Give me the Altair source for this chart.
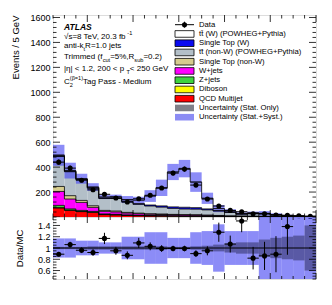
import altair as alt
import pandas as pd

FONT = "Liberation Sans"

# ---------------- data ----------------
bin_edges = [25, 30, 35, 40, 45, 50, 55, 60, 65, 70, 75, 80, 85, 90, 95, 100,
             105, 110, 115, 120, 125, 130, 135, 140]

qcd      = [72, 53, 43, 37, 19, 17, 12, 10, 8, 7, 6, 5, 5, 4, 3, 2, 2, 1, 1, 1, 0.5, 0.5, 0.3]
diboson  = [3, 2, 2, 2, 1, 1, 1, 1, 1, 1, 1, 1, 1, 1, 0.5, 0.5, 0.5, 0.3, 0.3, 0.2, 0.2, 0.1, 0.1]
zjets    = [18, 10, 8, 6, 5, 4, 4, 3, 3, 3, 3, 2, 2, 2, 2, 1, 1, 1, 1, 1, 0.5, 0.5, 0.3]
wjets    = [112, 79, 64, 32, 20, 18, 14, 12, 10, 9, 8, 8, 7, 6, 5, 4, 3, 3, 2, 2, 1, 1, 1]
st_nonw  = [40, 27, 16, 13, 8, 8, 6, 5, 4, 4, 3, 3, 3, 2, 2, 1, 1, 1, 1, 0.5, 0.5, 0.3, 0.2]
tt_nonw  = [240, 192, 167, 140, 95, 100, 85, 70, 62, 55, 48, 45, 45, 42, 35, 28, 15, 22, 20, 12, 7, 4, 3]
st_w     = [5, 4, 3, 4, 4, 5, 6, 7, 8, 10, 12, 14, 12, 8, 5, 3, 2, 2, 2, 1, 0.5, 0.5, 0.3]
tt_w     = [5, 5, 4, 6, 8, 10, 12, 27, 72, 145, 280, 310, 205, 85, 15, 8, 4, 3, 2, 1, 0.5, 0.5, 0.3]

data_counts = [440, 392, 295, 218, 182, 152, 120, 146, 174, 232, 352, 384, 256, 144,
               88, 53, 42, 26, 26, 16, 14, 10, 5]
data_errors = [21, 20, 17, 15, 13, 12, 11, 12, 13, 15, 19, 20, 16, 12,
               9, 7, 6.5, 5, 5, 4, 3.7, 3.2, 2.2]

ratio_vals = [0.89, 1.06, 0.96, 0.92, 1.17, 0.95, 0.87, 1.09, 1.03, 0.99, 0.99, 0.99, 0.90, 0.95,
              1.28, 1.07, 1.48, 0.82, 0.86, 0.89, 1.38, None, None]
ratio_errs = [0.04, 0.05, 0.05, 0.06, 0.10, 0.07, 0.07, 0.09, 0.07, 0.06, 0.05, 0.05, 0.06, 0.08,
              0.17, 0.15, 0.20, 0.20, 0.25, 0.32, 0.50, None, None]

unc_syst = [0.17, 0.17, 0.13, 0.13, 0.10, 0.10, 0.20, 0.20, 0.28, 0.28, 0.18, 0.18, 0.28, 0.30,
            0.42, 0.30, 0.30, 0.30, 0.60, 0.60, 0.60, 0.60, 0.60]
unc_stat = [0.02, 0.02, 0.02, 0.03, 0.03, 0.03, 0.03, 0.03, 0.03, 0.03, 0.02, 0.02, 0.03, 0.04,
            0.06, 0.08, 0.10, 0.10, 0.15, 0.18, 0.20, 0.22, 0.40]

# stack order bottom -> top
comp_names = ["QCD Multijet", "Diboson", "Z+jets", "W+jets", "Single Top (non-W)",
              "tt̄ (non-W) (POWHEG+Pythia)", "Single Top (W)", "tt̄ (W) (POWHEG+Pythia)"]
comp_values = [qcd, diboson, zjets, wjets, st_nonw, tt_nonw, st_w, tt_w]
comp_colors = ["#ff0000", "#ffff00", "#3ed33e", "#ff00ff", "#d6cc8e",
               "#b3bfc8", "#0a0af0", "#ffffff"]

SYST_COL, SYST_OP = "#4646f2", 0.62
STAT_COL, STAT_OP = "#1a1a40", 0.45

lo = bin_edges[:-1]
hi = bin_edges[1:]
nb = len(lo)

# ---------------- tables ----------------
rows, lines = [], []
cum = [0.0] * nb
for name, vals, col in zip(comp_names, comp_values, comp_colors):
    for i in range(nb):
        y0 = cum[i]
        y1 = cum[i] + vals[i]
        rows.append(dict(lo=lo[i], hi=hi[i], y0=y0, y1=y1, name=name))
        cum[i] = y1
    for i in range(nb):
        lines.append(dict(x=lo[i], y=cum[i], name=name))
    lines.append(dict(x=hi[-1], y=cum[-1], name=name))
stack_df = pd.DataFrame(rows)
line_df = pd.DataFrame(lines)
total = cum[:]

band_df = pd.DataFrame(dict(lo=lo, hi=hi,
                            s_lo=[t * (1 - u) for t, u in zip(total, unc_syst)],
                            s_hi=[t * (1 + u) for t, u in zip(total, unc_syst)],
                            t_lo=[t * (1 - u) for t, u in zip(total, unc_stat)],
                            t_hi=[t * (1 + u) for t, u in zip(total, unc_stat)],
                            r_slo=[1 - u for u in unc_syst], r_shi=[1 + u for u in unc_syst],
                            r_tlo=[1 - u for u in unc_stat], r_thi=[1 + u for u in unc_stat]))

data_df = pd.DataFrame(dict(lo=lo, hi=hi, c=[(a + b) / 2 for a, b in zip(lo, hi)],
                            n=data_counts,
                            elo=[n - e for n, e in zip(data_counts, data_errors)],
                            ehi=[n + e for n, e in zip(data_counts, data_errors)]))

rat_rows = []
for i in range(nb):
    if ratio_vals[i] is None:
        continue
    rat_rows.append(dict(lo=lo[i], hi=hi[i], c=(lo[i] + hi[i]) / 2, r=ratio_vals[i],
                         rlo=ratio_vals[i] - ratio_errs[i], rhi=ratio_vals[i] + ratio_errs[i]))
rat_df = pd.DataFrame(rat_rows)

# ---------------- geometry ----------------
W, H1, H2 = 263, 202, 62
xsc = alt.Scale(domain=[25, 140], nice=False, zero=False)
ysc = alt.Scale(domain=[0, 1620], nice=False, zero=False)
rsc = alt.Scale(domain=[0.45, 1.55], nice=False, zero=False)

yax = alt.Axis(values=list(range(200, 1601, 200)), format="d", ticks=False, domain=False, grid=False,
               labelFontSize=9, labelPadding=3, labelColor="black", labelFont=FONT,
               title="Events / 5 GeV", titleAnchor="end", titleFontSize=9.5,
               titleFontWeight="normal", titleFont=FONT, titlePadding=9, titleColor="black")
rax = alt.Axis(values=[0.6, 0.8, 1, 1.2, 1.4], format="~g", ticks=False, domain=False, grid=False,
               labelFontSize=9, labelPadding=3, labelColor="black", labelFont=FONT,
               title="Data/MC", titleFontSize=9.5, titleFontWeight="normal", titleFont=FONT,
               titlePadding=13, titleColor="black")
xax = alt.Axis(values=list(range(40, 141, 20)), format="d", ticks=False, domain=False, grid=False,
               labelFontSize=9, labelPadding=2, labelColor="black", labelFont=FONT,
               title="M [GeV]", titleAnchor="end", titleFontSize=9.5, titleFontWeight="normal",
               titleFont=FONT, titlePadding=4, titleColor="black", labelFlush=False)

one = pd.DataFrame({"a": [0]})

# ---------------- main panel ----------------
bars = alt.Chart(stack_df).mark_rect(strokeWidth=0).encode(
    x=alt.X("lo:Q", scale=xsc, axis=None), x2="hi:Q",
    y=alt.Y("y0:Q", scale=ysc, axis=yax), y2="y1:Q",
    color=alt.Color("name:N", scale=alt.Scale(domain=comp_names, range=comp_colors), legend=None))

steps = alt.Chart(line_df).mark_line(interpolate="step-after", color="black", strokeWidth=0.8).encode(
    x=alt.X("x:Q", scale=xsc, axis=None), y=alt.Y("y:Q", scale=ysc, axis=yax), detail="name:N")

band_s = alt.Chart(band_df).mark_rect(color=SYST_COL, opacity=SYST_OP).encode(
    x=alt.X("lo:Q", scale=xsc, axis=None), x2="hi:Q",
    y=alt.Y("s_lo:Q", scale=ysc, axis=yax), y2="s_hi:Q")
band_t = alt.Chart(band_df).mark_rect(color=STAT_COL, opacity=STAT_OP).encode(
    x=alt.X("lo:Q", scale=xsc, axis=None), x2="hi:Q",
    y=alt.Y("t_lo:Q", scale=ysc, axis=yax), y2="t_hi:Q")

d_h = alt.Chart(data_df).mark_rule(color="black", strokeWidth=1).encode(
    x=alt.X("lo:Q", scale=xsc, axis=None), x2="hi:Q", y=alt.Y("n:Q", scale=ysc, axis=yax))
d_v = alt.Chart(data_df).mark_rule(color="black", strokeWidth=1).encode(
    x=alt.X("c:Q", scale=xsc, axis=None), y=alt.Y("elo:Q", scale=ysc, axis=yax), y2="ehi:Q")
d_p = alt.Chart(data_df).mark_circle(color="black", opacity=1, size=26).encode(
    x=alt.X("c:Q", scale=xsc, axis=None), y=alt.Y("n:Q", scale=ysc, axis=yax))


def tick_layers(xticks_major, xticks_minor, yticks_major, yticks_minor, xs, ys, yax_, H,
                lx_major, lx_minor, ly_major, ly_minor):
    out = []
    for vals, ln in ((xticks_major, lx_major), (xticks_minor, lx_minor)):
        df = pd.DataFrame({"t": vals})
        out.append(alt.Chart(df).mark_rule(color="black", strokeWidth=0.8).encode(
            x=alt.X("t:Q", scale=xs, axis=None), y=alt.value(0), y2=alt.value(ln)))
        out.append(alt.Chart(df).mark_rule(color="black", strokeWidth=0.8).encode(
            x=alt.X("t:Q", scale=xs, axis=None), y=alt.value(H), y2=alt.value(H - ln)))
    for vals, ln in ((yticks_major, ly_major), (yticks_minor, ly_minor)):
        df = pd.DataFrame({"t": vals})
        out.append(alt.Chart(df).mark_rule(color="black", strokeWidth=0.8).encode(
            y=alt.Y("t:Q", scale=ys, axis=yax_), x=alt.value(0), x2=alt.value(ln)))
        out.append(alt.Chart(df).mark_rule(color="black", strokeWidth=0.8).encode(
            y=alt.Y("t:Q", scale=ys, axis=yax_), x=alt.value(W), x2=alt.value(W - ln)))
    return out


x_major = [40, 60, 80, 100, 120, 140]
x_minor = [v for v in range(25, 141, 5) if v not in x_major]
y_major = list(range(0, 1601, 200))
y_minor = [v for v in range(0, 1620, 40) if v % 200 != 0]
r_major = [0.6, 0.8, 1.0, 1.2, 1.4]
r_minor = [round(0.45 + 0.05 * k, 2) for k in range(0, 23)]
r_minor = [v for v in r_minor if v not in r_major]

main_ticks = tick_layers(x_major, x_minor, y_major, y_minor, xsc, ysc, yax, H1, 7, 3.5, 7, 3.5)

# ---------------- text helpers ----------------
CW = {' ': 278, '(': 333, ')': 333, '+': 584, ',': 278, '-': 333, '.': 278, '/': 278, '=': 584,
      '%': 889, '<': 584, '|': 260, 'A': 667, 'C': 722, 'D': 722, 'E': 667, 'G': 778, 'H': 722,
      'L': 556, 'M': 833, 'O': 778, 'P': 667, 'Q': 778, 'R': 722, 'S': 667, 'T': 611, 'V': 667,
      'W': 944, 'a': 556, 'b': 556, 'c': 500, 'd': 556, 'e': 556, 'f': 278, 'g': 556, 'h': 556,
      'i': 222, 'j': 222, 'k': 500, 'l': 222, 'm': 833, 'n': 556, 'o': 556, 'p': 556, 'r': 333,
      's': 500, 't': 278, 'u': 556, 'y': 500, 'η': 556, 'β': 556, '√': 549}


def tw(s, size):
    return sum(CW.get(ch, 556) for ch in s) / 1000.0 * size


def txt(s, px, py, size, bold=False, italic=False):
    return alt.Chart(one).mark_text(
        text=s, align="left", baseline="middle", fontSize=size, font=FONT, color="black",
        fontWeight="bold" if bold else "normal",
        fontStyle="italic" if italic else "normal").encode(x=alt.value(px), y=alt.value(py))


def rich(pieces, px, py, size):
    out = []
    x = px
    for s, kind in pieces:
        if kind == "n":
            out.append(txt(s, x, py, size))
            x += tw(s, size)
        elif kind == "sub":
            out.append(txt(s, x, py + 0.35 * size, size * 0.7))
            x += tw(s, size * 0.7)
        elif kind == "sup":
            out.append(txt(s, x, py - 0.45 * size, size * 0.7))
            x += tw(s, size * 0.7)
        elif kind == "subsup":
            sub, sup = s
            out.append(txt(sub, x, py + 0.35 * size, size * 0.7))
            out.append(txt(sup, x, py - 0.5 * size, size * 0.7))
            x += max(tw(sub, size * 0.7), tw(sup, size * 0.7))
    return out


TS = 8
TX = 11
label_layers = [txt("ATLAS", TX, 11.5, 8.5, bold=True, italic=True)]
label_layers += rich([("√s=8 TeV, 20.3 fb", "n"), ("-1", "sup")], TX, 21.5, TS)
label_layers += rich([("anti-k", "n"), ("t", "sub"), (" R=1.0 jets", "n")], TX, 31, TS)
label_layers += rich([("Trimmed (f", "n"), ("cut", "sub"), ("=5%,R", "n"), ("sub", "sub"),
                      ("=0.2)", "n")], TX, 42, TS)
label_layers += rich([("|η| < 1.2,  200 < p", "n"), ("T", "sub"), (" < 250 GeV", "n")], TX, 54, TS)
label_layers += rich([("C", "n"), (("2", "(β=1)"), "subsup"), (" Tag Pass - Medium", "n")], TX, 67, TS)

# ---------------- legend ----------------
LX0, LX1, LTX, LS = 122, 141, 146, 7.7
leg_y = [9.7 + 9.25 * k for k in range(11)]
leg_entries = ["Data"] + comp_names[::-1] + ["Uncertainty (Stat. Only)", "Uncertainty (Stat.+Syst.)"]
leg_fill = [None] + comp_colors[::-1] + ["#808088", "#8c8cf4"]

legend_layers = []
for k, (name, fill) in enumerate(zip(leg_entries, leg_fill)):
    yy = leg_y[k]
    if name == "Data":
        legend_layers.append(alt.Chart(one).mark_rule(color="black", strokeWidth=1).encode(
            x=alt.value(LX0), x2=alt.value(LX1), y=alt.value(yy)))
        legend_layers.append(alt.Chart(one).mark_rule(color="black", strokeWidth=1).encode(
            x=alt.value((LX0 + LX1) / 2), y=alt.value(yy - 3), y2=alt.value(yy + 3)))
        legend_layers.append(alt.Chart(one).mark_circle(color="black", opacity=1, size=26).encode(
            x=alt.value((LX0 + LX1) / 2), y=alt.value(yy)))
    elif name.startswith("Uncertainty"):
        legend_layers.append(alt.Chart(one).mark_rect(color=fill).encode(
            x=alt.value(LX0), x2=alt.value(LX1), y=alt.value(yy - 3.3), y2=alt.value(yy + 3.3)))
    else:
        legend_layers.append(alt.Chart(one).mark_rect(fill=fill, stroke="black", strokeWidth=0.8).encode(
            x=alt.value(LX0), x2=alt.value(LX1), y=alt.value(yy - 3.3), y2=alt.value(yy + 3.3)))
    legend_layers.append(txt(name, LTX, yy, LS))

main = alt.layer(bars, band_s, band_t, steps, d_h, d_v, d_p, *main_ticks, *label_layers,
                 *legend_layers).properties(width=W, height=H1)

# ---------------- ratio panel ----------------
rb_s = alt.Chart(band_df).mark_rect(color=SYST_COL, opacity=SYST_OP, clip=True).encode(
    x=alt.X("lo:Q", scale=xsc, axis=xax), x2="hi:Q",
    y=alt.Y("r_slo:Q", scale=rsc, axis=rax), y2="r_shi:Q")
rb_t = alt.Chart(band_df).mark_rect(color=STAT_COL, opacity=STAT_OP, clip=True).encode(
    x=alt.X("lo:Q", scale=xsc, axis=xax), x2="hi:Q",
    y=alt.Y("r_tlo:Q", scale=rsc, axis=rax), y2="r_thi:Q")
one_line = alt.Chart(pd.DataFrame({"v": [1.0]})).mark_rule(color="black", strokeWidth=1).encode(
    y=alt.Y("v:Q", scale=rsc, axis=rax), x=alt.value(0), x2=alt.value(W))
r_h = alt.Chart(rat_df).mark_rule(color="black", strokeWidth=1, clip=True).encode(
    x=alt.X("lo:Q", scale=xsc, axis=xax), x2="hi:Q", y=alt.Y("r:Q", scale=rsc, axis=rax))
r_v = alt.Chart(rat_df).mark_rule(color="black", strokeWidth=1, clip=True).encode(
    x=alt.X("c:Q", scale=xsc, axis=xax), y=alt.Y("rlo:Q", scale=rsc, axis=rax), y2="rhi:Q")
r_p = alt.Chart(rat_df).mark_circle(color="black", opacity=1, size=26, clip=True).encode(
    x=alt.X("c:Q", scale=xsc, axis=xax), y=alt.Y("r:Q", scale=rsc, axis=rax))

ratio_ticks = tick_layers(x_major, x_minor, r_major, r_minor, xsc, rsc, rax, H2, 6, 3, 7, 3.5)

ratio = alt.layer(rb_s, rb_t, one_line, r_h, r_v, r_p, *ratio_ticks).properties(width=W, height=H2)

chart = alt.vconcat(main, ratio, spacing=0, bounds="flush").properties(
    padding={"left": 2, "top": 4, "right": 5, "bottom": 5}
).configure_view(stroke="black", strokeWidth=1).configure(font=FONT, background="white")

chart.save("out.html", embed_options={"renderer": "svg", "actions": False})
